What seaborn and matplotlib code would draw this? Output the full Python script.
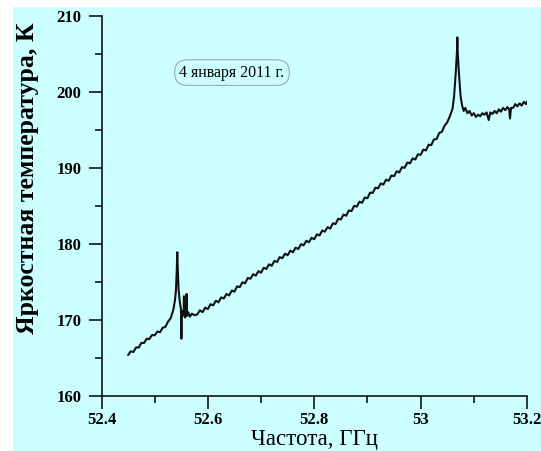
import matplotlib
matplotlib.use("Agg")
import matplotlib.pyplot as plt
import numpy as np
import pandas as pd
import seaborn as sns
from matplotlib.patches import Rectangle
from matplotlib.ticker import MultipleLocator, FixedLocator

# Spectrum (frequency in GHz, brightness temperature in K)
freq_ghz = [
    52.450, 52.455, 52.460, 52.465, 52.470, 52.475, 52.480, 52.485, 52.490, 52.495,
    52.500, 52.505, 52.510, 52.515, 52.520, 52.525, 52.530, 52.535, 52.538, 52.540,
    52.5415, 52.5424, 52.5435, 52.545, 52.547, 52.5495, 52.5502, 52.551, 52.553, 52.5545,
    52.555, 52.5555, 52.557, 52.5595, 52.560, 52.5605, 52.563, 52.566, 52.570, 52.575,
    52.580, 52.585, 52.590, 52.595, 52.600, 52.605, 52.610, 52.615, 52.620, 52.625,
    52.630, 52.635, 52.640, 52.645, 52.650, 52.655, 52.660, 52.665, 52.670, 52.675,
    52.680, 52.685, 52.690, 52.695, 52.700, 52.705, 52.710, 52.715, 52.720, 52.725,
    52.730, 52.735, 52.740, 52.745, 52.750, 52.755, 52.760, 52.765, 52.770, 52.775,
    52.780, 52.785, 52.790, 52.795, 52.800, 52.805, 52.810, 52.815, 52.820, 52.825,
    52.830, 52.835, 52.840, 52.845, 52.850, 52.855, 52.860, 52.865, 52.870, 52.875,
    52.880, 52.885, 52.890, 52.895, 52.900, 52.905, 52.910, 52.915, 52.920, 52.925,
    52.930, 52.935, 52.940, 52.945, 52.950, 52.955, 52.960, 52.965, 52.970, 52.975,
    52.980, 52.985, 52.990, 52.995, 53.000, 53.005, 53.010, 53.015, 53.020, 53.025,
    53.030, 53.035, 53.040, 53.045, 53.050, 53.055, 53.060, 53.063, 53.066, 53.0685,
    53.069, 53.0695, 53.072, 53.075, 53.078, 53.081, 53.084, 53.088, 53.092, 53.096,
    53.100, 53.104, 53.108, 53.112, 53.116, 53.120, 53.124, 53.128, 53.131, 53.135,
    53.139, 53.143, 53.147, 53.151, 53.155, 53.159, 53.163, 53.1665, 53.168, 53.170,
    53.174, 53.178, 53.182, 53.186, 53.190, 53.194, 53.198, 53.201,
]
temp_k = [
    165.35, 165.85, 165.75, 166.35, 166.35, 166.95, 166.95, 167.5, 167.45, 168.0,
    167.95, 168.45, 168.35, 168.95, 169.05, 169.75, 170.2, 171.3, 172.5, 173.9,
    176.5, 178.9, 176.5, 173.9, 172.5, 171.3, 167.5, 171.2, 170.8, 170.6,
    173.1, 170.6, 170.3, 170.6, 173.4, 170.5, 171.0, 170.4, 170.8, 170.6,
    170.7, 171.25, 171.0, 171.6, 171.4, 172.05, 171.9, 172.5, 172.3, 172.95,
    172.8, 173.4, 173.2, 173.85, 173.7, 174.4, 174.3, 174.95, 174.8, 175.5,
    175.4, 176.0, 175.8, 176.4, 176.2, 176.85, 176.7, 177.3, 177.1, 177.75,
    177.6, 178.25, 178.1, 178.7, 178.5, 179.1, 178.9, 179.5, 179.3, 179.95,
    179.8, 180.4, 180.2, 180.8, 180.6, 181.25, 181.1, 181.75, 181.6, 182.2,
    182.0, 182.7, 182.6, 183.3, 183.2, 183.85, 183.7, 184.4, 184.3, 185.0,
    184.9, 185.55, 185.4, 186.1, 186.0, 186.75, 186.7, 187.4, 187.3, 187.95,
    187.8, 188.45, 188.3, 189.0, 188.9, 189.55, 189.4, 190.1, 190.0, 190.7,
    190.6, 191.25, 191.1, 191.8, 191.7, 192.4, 192.3, 193.05, 193.0, 193.75,
    193.8, 194.6, 194.75, 195.55, 196.0, 196.8, 197.8, 199.5, 202.5, 205.5,
    207.2, 205.5, 202.5, 199.5, 198.2, 197.5, 197.9, 197.2, 197.5, 196.9,
    197.2, 196.7, 197.0, 196.8, 197.2, 197.0, 197.3, 196.3, 197.3, 197.1,
    197.5, 197.2, 197.7, 197.4, 197.9, 197.6, 198.0, 197.7, 196.5, 197.9,
    197.9, 198.4, 198.1, 198.5, 198.2, 198.7, 198.4, 198.8,
]

x_ticks = [52.4, 52.6, 52.8, 53.0, 53.2]
x_tick_labels = ["52.4", "52.6", "52.8", "53", "53.2"]
y_ticks = [160, 170, 180, 190, 200, 210]
date_label = "4 января 2011 г."

sns.set_theme(style="ticks")
plt.rcParams["font.family"] = ["Liberation Serif", "DejaVu Serif"]

bg = "#CCFFFF"
fig = plt.figure(figsize=(5.41, 4.51), dpi=100)
fig.patch.set_facecolor("white")
# cyan panel, with a thin white strip on the left and at the top
panel = Rectangle((13 / 541, 0), 1 - 13 / 541, 1 - 7 / 451,
                  transform=fig.transFigure, facecolor=bg,
                  edgecolor="none", zorder=-10)
fig.add_artist(panel)

ax = fig.add_axes([101.5 / 541, 1 - 395.7 / 451, 425.5 / 541, 379.7 / 451])
ax.set_facecolor("none")
ax.set_zorder(1)

df = pd.DataFrame({"freq": freq_ghz, "temp": temp_k})
sns.lineplot(data=df, x="freq", y="temp", estimator=None, ax=ax,
             color="#111111", linewidth=1.5)

ax.set_xlim(52.4, 53.2)
ax.set_ylim(160, 210)
ax.xaxis.set_major_locator(FixedLocator(x_ticks))
ax.set_xticklabels(x_tick_labels)
ax.xaxis.set_minor_locator(MultipleLocator(0.1))
ax.yaxis.set_major_locator(FixedLocator(y_ticks))
ax.yaxis.set_minor_locator(MultipleLocator(5))

for side in ["top", "right"]:
    ax.spines[side].set_visible(False)
for side in ["left", "bottom"]:
    ax.spines[side].set_linewidth(1.1)
    ax.spines[side].set_color("black")

ax.tick_params(which="major", direction="out", length=9.5, width=1.1, color="black")
ax.tick_params(which="minor", direction="out", length=5, width=1.1, color="black")
ax.tick_params(axis="x", which="major", pad=2.5)
ax.tick_params(axis="y", which="major", pad=5)
for lbl in ax.get_xticklabels() + ax.get_yticklabels():
    lbl.set_fontsize(12)
    lbl.set_fontweight("bold")
    lbl.set_color("black")

ax.set_xlabel("Частота, ГГц", fontsize=16.5, color="black", labelpad=0.5)
ax.set_ylabel("Яркостная температура, К", fontsize=18.5, fontweight="bold",
              color="black")
ax.yaxis.set_label_coords(-0.148, 0.573)

ax.text(0.3067, 0.851, date_label, transform=ax.transAxes, ha="center", va="center",
        fontsize=11.5, color="black",
        bbox=dict(boxstyle="round,pad=0.3,rounding_size=0.8", facecolor=bg,
                  edgecolor="#9aa8a8", linewidth=0.8))

ax.grid(False)
fig.savefig("out.png", dpi=100, facecolor=fig.get_facecolor())
